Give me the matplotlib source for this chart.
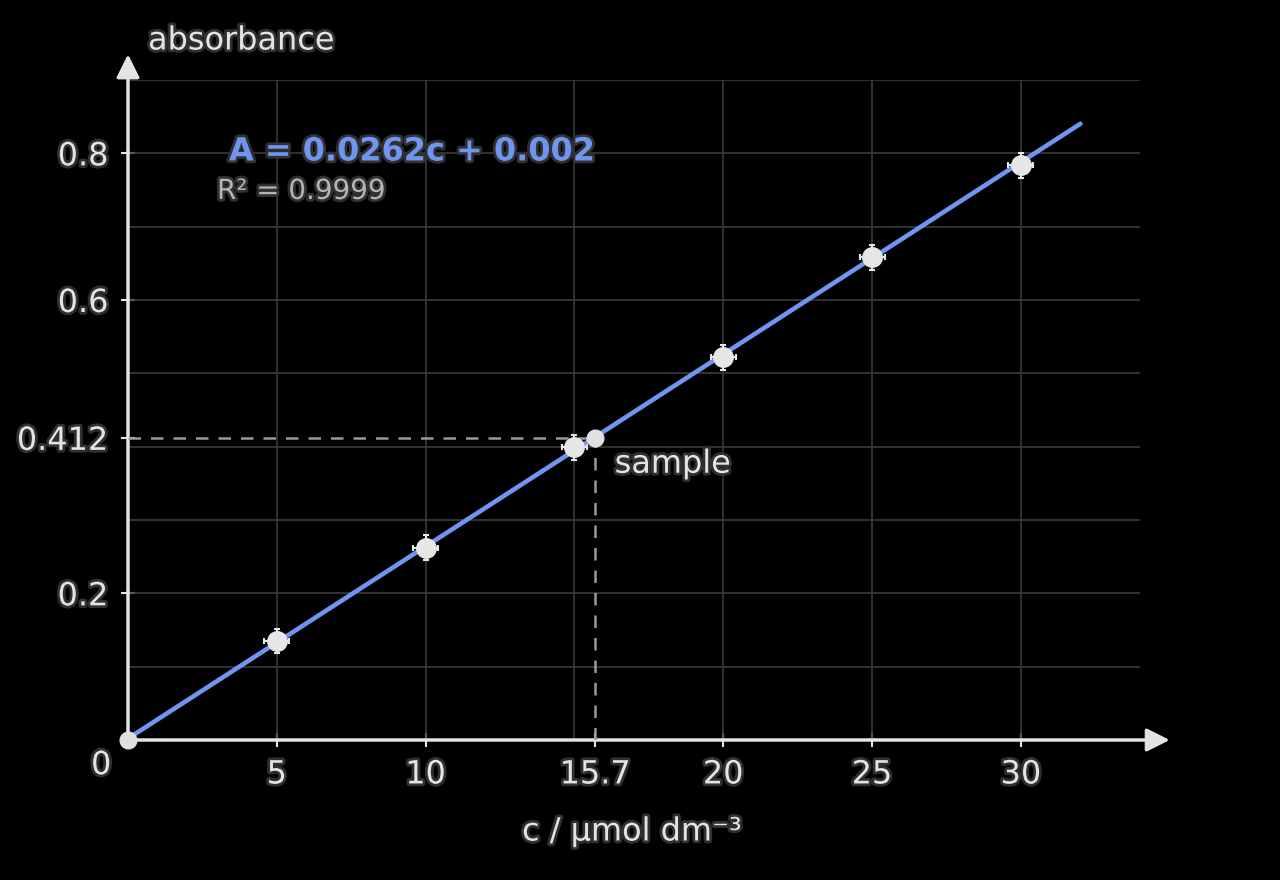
import matplotlib
matplotlib.use("Agg")
import matplotlib.pyplot as plt
import matplotlib.patheffects as pe
import numpy as np

# ---- data ----
conc = [5, 10, 15, 20, 25, 30]
absorb = [0.135, 0.262, 0.399, 0.522, 0.658, 0.784]
slope = 0.0262
intercept = 0.002
r2_text = "R² = 0.9999"
sample_c = 15.7
sample_a = 0.412
x_tick_vals = [5, 10, 15.7, 20, 25, 30]
x_tick_labels = ["5", "10", "15.7", "20", "25", "30"]
y_tick_vals = [0.2, 0.412, 0.6, 0.8]
y_tick_labels = ["0.2", "0.412", "0.6", "0.8"]
x_grid = [5, 10, 15, 20, 25, 30]
y_grid = [0.1, 0.2, 0.3, 0.4, 0.5, 0.6, 0.7, 0.8, 0.9]
fit_range = [0, 32]

BG = "black"
FG = "#e4e4e4"
BLUE = "#6f95f0"
GRID = "#3a3a3a"
stroke = [pe.withStroke(linewidth=4, foreground="#303030")]

plt.rcParams['font.family'] = ['DejaVu Sans']
fig = plt.figure(figsize=(12.8, 8.8), dpi=100, facecolor=BG)
ax = fig.add_axes([128/1280, (880-740)/880, 1012/1280, 660/880])
ax.set_facecolor(BG)
ax.set_xlim(0, 34)
ax.set_ylim(0, 0.9)

for s in ax.spines.values():
    s.set_visible(False)

ax.xaxis.remove_overlapping_locs = False
ax.yaxis.remove_overlapping_locs = False

# grid via minor ticks
ax.set_xticks(x_grid, minor=True)
ax.set_yticks(y_grid, minor=True)
ax.grid(which="minor", color=GRID, lw=1.2)
ax.tick_params(which="minor", length=0)

ax.set_xticks(x_tick_vals)
ax.set_xticklabels(x_tick_labels)
ax.set_yticks(y_tick_vals)
ax.set_yticklabels(y_tick_labels)
ax.tick_params(which="major", direction="inout", length=10, width=1.5, color=FG,
               labelcolor=FG, labelsize=23, pad=9)
for lab in ax.get_xticklabels() + ax.get_yticklabels():
    lab.set_path_effects(stroke)

# axes arrows
arrow_style = "-|>,head_length=1.4,head_width=0.7"
ax.annotate("", xy=(35.0, 0), xytext=(0, 0), xycoords="data",
            arrowprops=dict(arrowstyle=arrow_style, color=FG, lw=2.5,
                            shrinkA=0, shrinkB=0), annotation_clip=False, zorder=3)
ax.annotate("", xy=(0, 0.935), xytext=(0, 0), xycoords="data",
            arrowprops=dict(arrowstyle=arrow_style, color=FG, lw=2.5,
                            shrinkA=0, shrinkB=0), annotation_clip=False, zorder=3)

# fit line
fx = np.array(fit_range)
ax.plot(fx, slope * fx + intercept, color=BLUE, lw=3.3, zorder=4, clip_on=False,
        solid_capstyle="round")

# dashed guides
ax.plot([0, sample_c], [sample_a, sample_a], ls=(0, (5, 4)), color="#9a9a9a", lw=1.8, zorder=3)
ax.plot([sample_c, sample_c], [0, sample_a], ls=(0, (5, 4)), color="#9a9a9a", lw=1.8, zorder=3)

# data points
ax.errorbar(conc, absorb, xerr=0.42, yerr=0.017, fmt="o", color="#e6e6e6", ms=14,
            mec="#e6e6e6", ecolor="#e6e6e6", elinewidth=1.5, capsize=2.5, capthick=1.5,
            zorder=5)

# sample and origin points
ax.plot([sample_c], [sample_a], "o", color="#e0e0e0", ms=12, mec="#e0e0e0", zorder=6)
ax.plot([0], [0], "o", color="#e0e0e0", ms=12, mec="#e0e0e0", zorder=6, clip_on=False)

# texts
ax.text(15.7 + 0.65, sample_a - 0.036, "sample", color=FG, fontsize=23, va="center",
        ha="left", path_effects=stroke)
ax.text(-0.9, -0.035, "0", color=FG, fontsize=23, va="center", ha="center", path_effects=stroke)
fig.text(148/1280, 1 - 41/880, "absorbance", color=FG, fontsize=23, va="center", ha="left",
         path_effects=stroke)
fig.text(632/1280, 1 - 832/880, "c / µmol dm⁻³", color=FG, fontsize=23, va="center",
         ha="center", path_effects=stroke)
fig.text(229/1280, 1 - 152/880, f"A = {slope}c + {intercept}", color=BLUE, fontsize=23,
         fontweight="bold", va="center", ha="left", path_effects=stroke)
fig.text(217/1280, 1 - 191/880, r2_text, color="#b4b4b4", fontsize=20, va="center", ha="left",
         path_effects=stroke)

fig.savefig("out.png", dpi=100, facecolor=BG)
